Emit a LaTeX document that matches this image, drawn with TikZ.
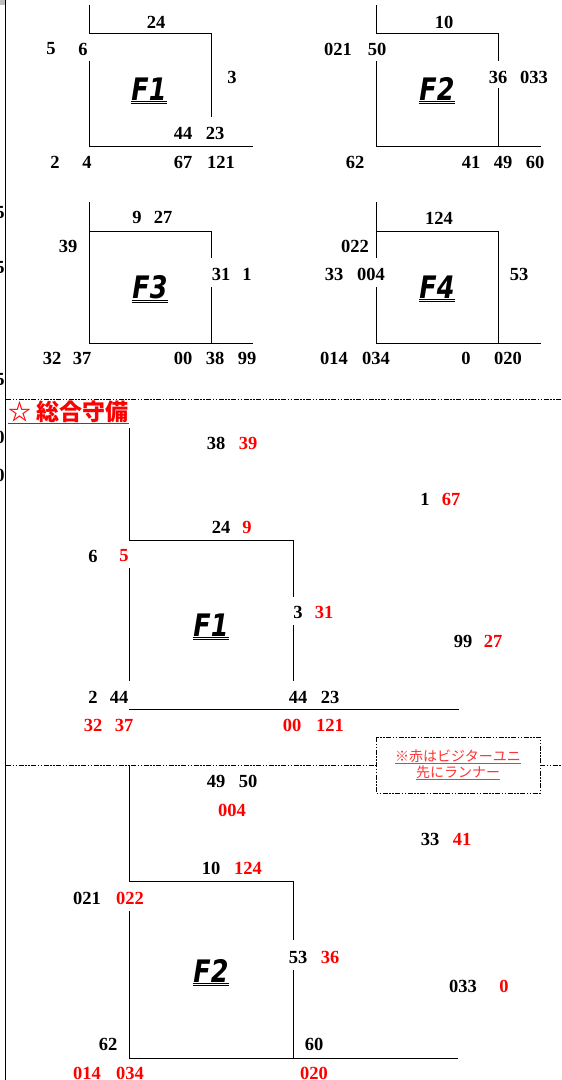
\documentclass[tikz,border=0pt]{standalone}
\usepackage{fontspec}
\setmainfont{Liberation Serif}
\newfontfamily\cjk{Noto Sans CJK JP}
\newfontfamily\floorfont{DejaVu Sans}
\usepackage{tikz}

\tikzset{
    num/.style={font=\fontsize{18.5}{19}\selectfont\bfseries, inner sep=0pt},
    runner/.style={num, text=red},
    floor/.style={font=\fontsize{31}{31}\floorfont\bfseries\itshape, inner sep=0pt, anchor=base},
    wall/.style={color=black!100, line width=0.9pt},
    cutline/.style={color=black!100, line width=0.8pt, dash pattern=on 5pt off 1.5pt on 1.5pt off 1.5pt on 1.5pt off 1.5pt},
}
\newcommand{\floorname}[1]{\underline{\underline{\scalebox{0.82}[1]{#1}}}}

\begin{document}
\begin{tikzpicture}[x=1pt, y=-1pt]
                \useasboundingbox (0, 0) rectangle (562, 1080);
                \fill[color=black!25] (0, 0) rectangle (5, 5);
                \draw[wall] (5, 0) -- (5, 1080);
                \node[num] (edge1) at (0, 213) {5};
                \node[num] (edge2) at (0, 268) {5};
                \node[num] (edge3) at (0, 380) {5};
                \node[num] (edge4) at (0, 437) {0};
                \node[num] (edge5) at (0, 475) {0};

                % F1
                \draw[wall] (89, 5) -- (89, 33) -- (211, 33) -- (211, 117);
                \draw[wall] (89, 61) -- (89, 146) -- (253, 146);
                \node[floor] (p1) at (149, 100) {\floorname{F1}};
                \node[num] (p1-24) at (156, 22) {24};
                \node[num] (p1-5) at (51, 49) {5};
                \node[num] (p1-6) at (83, 49) {6};
                \node[num] (p1-3) at (232, 77) {3};
                \node[num] (p1-44) at (183, 133) {44};
                \node[num] (p1-23) at (215, 133) {23};
                \node[num] (p1-2) at (55, 162) {2};
                \node[num] (p1-4) at (87, 162) {4};
                \node[num] (p1-67) at (183, 162) {67};
                \node[num] (p1-121) at (221, 162) {121};

                % F2
                \draw[wall] (376, 5) -- (376, 33) -- (498, 33) -- (498, 61);
                \draw[wall] (498, 88) -- (498, 146);
                \draw[wall] (376, 61) -- (376, 146) -- (541, 146);
                \node[floor] (p2) at (437, 100) {\floorname{F2}};
                \node[num] (p2-10) at (444, 22) {10};
                \node[num] (p2-021) at (338, 49) {021};
                \node[num] (p2-50) at (377, 49) {50};
                \node[num] (p2-36) at (498, 77) {36};
                \node[num] (p2-033) at (534, 77) {033};
                \node[num] (p2-62) at (355, 162) {62};
                \node[num] (p2-41) at (471, 162) {41};
                \node[num] (p2-49) at (503, 162) {49};
                \node[num] (p2-60) at (535, 162) {60};

                % F3
                \draw[wall] (89, 202) -- (89, 343) -- (253, 343);
                \draw[wall] (89, 231) -- (211, 231) -- (211, 258);
                \draw[wall] (211, 287) -- (211, 343);
                \node[floor] (p3) at (150, 298) {\floorname{F3}};
                \node[num] (p3-9) at (137, 217) {9};
                \node[num] (p3-27) at (163, 217) {27};
                \node[num] (p3-39) at (68, 246) {39};
                \node[num] (p3-31) at (221, 274) {31};
                \node[num] (p3-1) at (247, 274) {1};
                \node[num] (p3-32) at (52, 358) {32};
                \node[num] (p3-37) at (82, 358) {37};
                \node[num] (p3-00) at (183, 358) {00};
                \node[num] (p3-38) at (215, 358) {38};
                \node[num] (p3-99) at (247, 358) {99};

                % F4
                \draw[wall] (376, 202) -- (376, 258);
                \draw[wall] (376, 231) -- (498, 231) -- (498, 343);
                \draw[wall] (376, 287) -- (376, 343) -- (541, 343);
                \node[floor] (p4) at (437, 298) {\floorname{F4}};
                \node[num] (p4-124) at (439, 218) {124};
                \node[num] (p4-022) at (355, 246) {022};
                \node[num] (p4-33) at (334, 274) {33};
                \node[num] (p4-004) at (371, 274) {004};
                \node[num] (p4-53) at (519, 274) {53};
                \node[num] (p4-014) at (334, 358) {014};
                \node[num] (p4-034) at (376, 358) {034};
                \node[num] (p4-0) at (466, 358) {0};
                \node[num] (p4-020) at (508, 358) {020};

                \draw[cutline] (6, 399) -- (562, 399);
                \node[font=\fontsize{23}{24}\cjk\bfseries, text=red, inner sep=0pt, anchor=base west] (title) at (8, 420) {☆ 総合守備};
                \draw[color=red, line width=1pt] ([yshift=-3.5pt]title.base west) -- ([yshift=-3.5pt]title.base east);

                % F1 total
                \draw[wall] (129, 428) -- (129, 540) -- (293, 540) -- (293, 597);
                \draw[wall] (293, 625) -- (293, 681);
                \draw[wall] (129, 568) -- (129, 681);
                \draw[wall] (129, 709) -- (459, 709);
                \node[floor] (g1) at (211, 636) {\floorname{F1}};
                \node[num] (g1-38) at (216, 443) {38};
                \node[runner] (g1-39) at (248, 443) {39};
                \node[num] (g1-1) at (425, 499) {1};
                \node[runner] (g1-67) at (451, 499) {67};
                \node[num] (g1-24) at (221, 527) {24};
                \node[runner] (g1-9) at (247, 527) {9};
                \node[num] (g1-6) at (93, 556) {6};
                \node[runner] (g1-5) at (124, 556) {5};
                \node[num] (g1-3) at (298, 612) {3};
                \node[runner] (g1-31) at (324, 612) {31};
                \node[num] (g1-99) at (463, 641) {99};
                \node[runner] (g1-27) at (493, 641) {27};
                \node[num] (g1-2) at (93, 697) {2};
                \node[num] (g1-44a) at (119, 697) {44};
                \node[num] (g1-44b) at (298, 697) {44};
                \node[num] (g1-23) at (330, 697) {23};
                \node[runner] (g1-32) at (93, 725) {32};
                \node[runner] (g1-37) at (124, 725) {37};
                \node[runner] (g1-00) at (292, 725) {00};
                \node[runner] (g1-121) at (330, 725) {121};

                \draw[cutline] (6, 765) -- (376, 765);
                \draw[cutline] (540, 765) -- (562, 765);
                \draw[cutline] (376, 737) rectangle (540, 793);
                \node[font=\fontsize{14}{15}\cjk, text=red!80, inner sep=0pt, anchor=base] (note1) at (458, 761) {\underline{※赤はビジターユニ}};
                \node[font=\fontsize{14}{15}\cjk, text=red!80, inner sep=0pt, anchor=base] (note2) at (458, 777) {\underline{先にランナー}};

                % F2 total
                \draw[wall] (129, 765) -- (129, 881) -- (293, 881) -- (293, 940);
                \draw[wall] (293, 970) -- (293, 1058);
                \draw[wall] (129, 911) -- (129, 1058) -- (458, 1058);
                \node[floor] (g2) at (211, 982) {\floorname{F2}};
                \node[num] (g2-49) at (216, 781) {49};
                \node[num] (g2-50) at (248, 781) {50};
                \node[runner] (g2-004) at (232, 810) {004};
                \node[num] (g2-33) at (430, 839) {33};
                \node[runner] (g2-41) at (462, 839) {41};
                \node[num] (g2-10) at (211, 868) {10};
                \node[runner] (g2-124) at (248, 868) {124};
                \node[num] (g2-021) at (87, 898) {021};
                \node[runner] (g2-022) at (130, 898) {022};
                \node[num] (g2-53) at (298, 957) {53};
                \node[runner] (g2-36) at (330, 957) {36};
                \node[num] (g2-033) at (463, 986) {033};
                \node[runner] (g2-0) at (504, 986) {0};
                \node[num] (g2-62) at (108, 1044) {62};
                \node[num] (g2-60) at (314, 1044) {60};
                \node[runner] (g2-014) at (87, 1073) {014};
                \node[runner] (g2-034) at (130, 1073) {034};
                \node[runner] (g2-020) at (314, 1073) {020};
            \end{tikzpicture}
\end{document}
